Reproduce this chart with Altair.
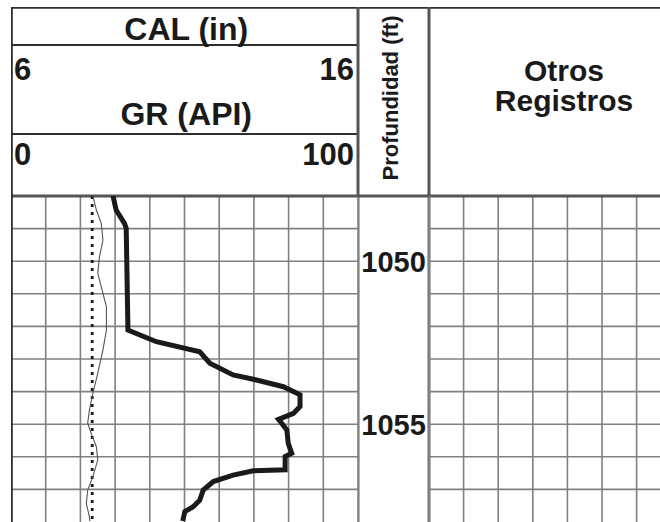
import altair as alt
import pandas as pd

# ---------------- data ----------------
# Gamma ray curve (API) against depth (ft)
gr_depth = [1048.00, 1048.43, 1048.84, 1048.99, 1052.11, 1052.47, 1052.78, 1053.13,
            1053.49, 1053.62, 1053.85, 1054.10, 1054.46, 1054.67, 1054.85, 1055.18,
            1055.59, 1055.89, 1055.99, 1056.40, 1056.43, 1056.56, 1056.76, 1057.02,
            1057.33, 1057.53, 1057.68, 1057.97]
gr_api = [29.4, 30.3, 32.7, 33.2, 33.7, 41.9, 54.4, 57.3,
          64.0, 69.8, 78.5, 83.3, 83.3, 81.4, 77.1, 79.5,
          79.9, 80.9, 79.0, 79.0, 69.8, 64.0, 58.3, 55.4,
          54.4, 52.5, 50.1, 49.5]

# Caliper curve (in) against depth (ft)
cal_depth = [1048.00, 1048.43, 1048.83, 1049.35, 1049.86, 1050.37, 1050.78, 1051.40,
             1052.11, 1052.72, 1053.44, 1054.05, 1054.56, 1054.97, 1055.28, 1055.69,
             1056.10, 1056.61, 1057.02, 1057.43, 1057.84, 1057.97]
cal_in = [8.36, 8.46, 8.60, 8.65, 8.55, 8.50, 8.60, 8.75,
          8.75, 8.65, 8.50, 8.36, 8.26, 8.21, 8.31, 8.46,
          8.50, 8.36, 8.21, 8.17, 8.26, 8.27]

# Bit size (dotted reference line, in)
bit_depth = [1048.0, 1057.99]
bit_in = [8.34, 8.34]

depth_labels = [1050, 1055]
gr_range = [0, 100]
cal_range = [6, 16]
depth_range = [1048, 1058]
gr_grid = [0, 10, 20, 30, 40, 50, 60, 70, 80, 90, 100]
depth_grid = [1048, 1049, 1050, 1051, 1052, 1053, 1054, 1055, 1056, 1057]
other_grid = [0, 1, 2, 3, 4, 5, 6]

cal_title = "CAL (in)"
gr_title = "GR (API)"
depth_title = "Profundidad (ft)"
other_title = ["Otros", "Registros"]

# ---------------- layout / style ----------------
W_L, W_D, W_R = 347, 71, 231
H_HEAD, H_BODY = 189, 326
FONT = "Liberation Sans"
INK = "#1a1a1a"
GRID = "#808080"
FRAME = "#2e2e2e"
SEP = "#555555"

y_depth = alt.Y("depth:Q", scale=alt.Scale(domain=depth_range, reverse=True), axis=None)
x_gr = alt.X("gr:Q", scale=alt.Scale(domain=gr_range), axis=None)
x_cal = alt.X("cal:Q", scale=alt.Scale(domain=cal_range), axis=None)
x_other = alt.X("o:Q", scale=alt.Scale(domain=[0, W_R / 34.6]), axis=None)
x_unit = alt.X("u:Q", scale=alt.Scale(domain=[0, 1]), axis=None)
y_head = alt.Y("hy:Q", scale=alt.Scale(domain=[0, H_HEAD], reverse=True), axis=None)


def rules(df, enc, color, width):
    return alt.Chart(pd.DataFrame(df)).mark_rule(color=color, strokeWidth=width, clip=True).encode(**enc)


def big_text(**kw):
    base = dict(font=FONT, fontWeight="bold", color=INK)
    base.update(kw)
    return base


# ---------------- body: GR / CAL track ----------------
lb_vgrid = rules({"gr": gr_grid[1:]}, {"x": x_gr}, GRID, 1.6)
lb_hgrid = rules({"depth": depth_grid[1:]}, {"y": y_depth}, GRID, 1.6)
lb_top = rules({"depth": depth_grid[:1]}, {"y": y_depth}, SEP, 3.2)
lb_left = rules({"gr": gr_grid[:1]}, {"x": x_gr}, FRAME, 3.6)
lb_bit = alt.Chart(pd.DataFrame({"depth": bit_depth, "cal": bit_in})).mark_line(
    color=INK, strokeWidth=2.8, strokeDash=[3, 5], clip=True
).encode(x=x_cal, y=y_depth, order="depth:Q")
lb_cal = alt.Chart(pd.DataFrame({"depth": cal_depth, "cal": cal_in})).mark_line(
    color="#555555", strokeWidth=1.1, clip=True
).encode(x=x_cal, y=y_depth, order="depth:Q")
lb_gr = alt.Chart(pd.DataFrame({"depth": gr_depth, "gr": gr_api})).mark_line(
    color=INK, strokeWidth=5, clip=True, strokeJoin="miter"
).encode(x=x_gr, y=y_depth, order="depth:Q")
left_body = alt.layer(lb_vgrid, lb_hgrid, lb_top, lb_left, lb_bit, lb_cal, lb_gr).resolve_scale(
    x="independent"
).properties(width=W_L, height=H_BODY)

# ---------------- body: depth track ----------------
db_edges = rules({"u": [0, 1]}, {"x": x_unit}, GRID, 3.2)
db_top = rules({"depth": depth_grid[:1]}, {"y": y_depth}, SEP, 3.2)
db_text = alt.Chart(pd.DataFrame({"depth": depth_labels})).mark_text(
    **big_text(fontSize=29, align="center", baseline="middle", dy=2)
).encode(y=y_depth, x=alt.value(W_D / 2), text=alt.Text("depth:Q", format="d"))
depth_body = alt.layer(db_edges, db_top, db_text).properties(width=W_D, height=H_BODY)

# ---------------- body: other logs track ----------------
rb_vgrid = rules({"o": other_grid}, {"x": x_other}, GRID, 1.6)
rb_hgrid = rules({"depth": depth_grid[1:]}, {"y": y_depth}, GRID, 1.6)
rb_top = rules({"depth": depth_grid[:1]}, {"y": y_depth}, SEP, 3.2)
rb_left = rules({"o": [0]}, {"x": x_other}, GRID, 3.2)
right_body = alt.layer(rb_vgrid, rb_hgrid, rb_top, rb_left).properties(width=W_R, height=H_BODY)

# ---------------- header: GR / CAL track ----------------
lh_lines = rules({"hy": [38, 127]}, {"y": y_head}, FRAME, 2.2)
lh_top = rules({"hy": [0]}, {"y": y_head}, FRAME, 3.6)
lh_bottom = rules({"hy": [H_HEAD]}, {"y": y_head}, SEP, 3.2)
lh_left = rules({"gr": [0]}, {"x": x_gr}, FRAME, 3.6)
lh_right = rules({"gr": [100]}, {"x": x_gr}, SEP, 3.0)
lh_titles = alt.Chart(pd.DataFrame({"t": [cal_title, gr_title], "gr": [50.5, 50.5], "hy": [33, 118]})).mark_text(
    **big_text(fontSize=32, align="center", baseline="alphabetic")
).encode(x=x_gr, y=y_head, text="t:N")
lh_cal_lo = alt.Chart(pd.DataFrame({"cal": cal_range[:1], "hy": [73]})).mark_text(
    **big_text(fontSize=31, align="left", baseline="alphabetic", dx=3)
).encode(x=x_cal, y=y_head, text=alt.Text("cal:Q", format="d"))
lh_cal_hi = alt.Chart(pd.DataFrame({"cal": cal_range[1:], "hy": [73]})).mark_text(
    **big_text(fontSize=31, align="right", baseline="alphabetic", dx=-4)
).encode(x=x_cal, y=y_head, text=alt.Text("cal:Q", format="d"))
lh_gr_lo = alt.Chart(pd.DataFrame({"gr": gr_range[:1], "hy": [158]})).mark_text(
    **big_text(fontSize=31, align="left", baseline="alphabetic", dx=3)
).encode(x=x_gr, y=y_head, text=alt.Text("gr:Q", format="d"))
lh_gr_hi = alt.Chart(pd.DataFrame({"gr": gr_range[1:], "hy": [158]})).mark_text(
    **big_text(fontSize=31, align="right", baseline="alphabetic", dx=-4)
).encode(x=x_gr, y=y_head, text=alt.Text("gr:Q", format="d"))
left_head = alt.layer(
    lh_lines, lh_top, lh_bottom, lh_left, lh_right, lh_titles, lh_gr_lo, lh_gr_hi, lh_cal_lo, lh_cal_hi
).resolve_scale(x="independent").properties(width=W_L, height=H_HEAD)

# ---------------- header: depth track ----------------
dh_top = rules({"hy": [0]}, {"y": y_head}, FRAME, 3.6)
dh_bottom = rules({"hy": [H_HEAD]}, {"y": y_head}, SEP, 3.2)
dh_edges = rules({"u": [0, 1]}, {"x": x_unit}, SEP, 3.0)
dh_text = alt.Chart(pd.DataFrame({"t": [depth_title], "hy": [91]})).mark_text(
    **big_text(fontSize=22, align="center", baseline="alphabetic", angle=270)
).encode(x=alt.value(40), y=y_head, text="t:N")
depth_head = alt.layer(dh_top, dh_bottom, dh_edges, dh_text).properties(width=W_D, height=H_HEAD)

# ---------------- header: other logs track ----------------
rh_top = rules({"hy": [0]}, {"y": y_head}, FRAME, 3.6)
rh_bottom = rules({"hy": [H_HEAD]}, {"y": y_head}, SEP, 3.2)
rh_left = rules({"o": [0]}, {"x": x_other}, SEP, 3.0)
rh_text = alt.Chart(pd.DataFrame({"t": other_title, "hy": [74, 104]})).mark_text(
    **big_text(fontSize=30, align="center", baseline="alphabetic")
).encode(x=alt.value(135), y=y_head, text="t:N")
right_head = alt.layer(rh_top, rh_bottom, rh_left, rh_text).properties(width=W_R, height=H_HEAD)

header = alt.hconcat(left_head, depth_head, right_head, spacing=0, bounds="flush")
body = alt.hconcat(left_body, depth_body, right_body, spacing=0, bounds="flush")

chart = (
    alt.vconcat(header, body, spacing=0)
    .properties(padding={"left": 11, "top": 7, "right": 0, "bottom": 0}, background="white")
    .configure_view(stroke=None)
)

chart.save("out.html", embed_options={"renderer": "svg", "actions": False})
